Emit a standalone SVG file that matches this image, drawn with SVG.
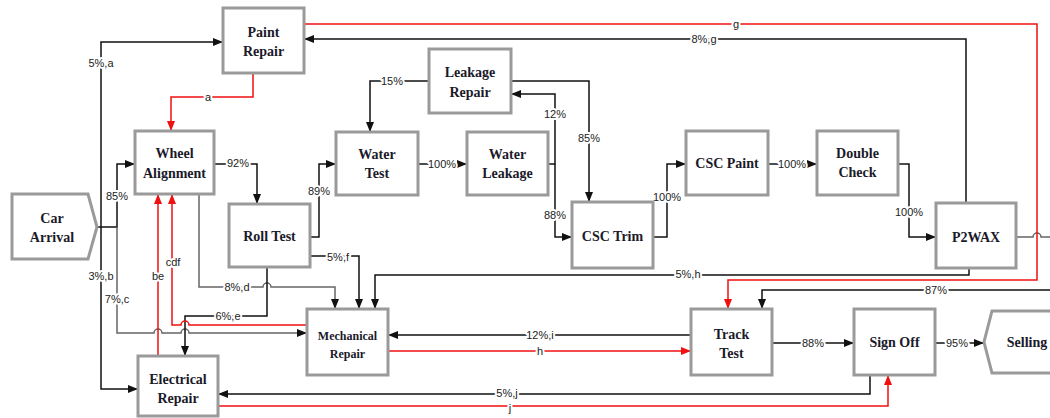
<svg xmlns="http://www.w3.org/2000/svg" width="1050" height="418" viewBox="0 0 1050 418">
<style>
.box{fill:#fff;stroke:#9a9a9a;stroke-width:3}
.nt{font-family:"Liberation Serif",serif;font-weight:bold;font-size:14px;fill:#1a1a2a;text-anchor:middle}
.nts{font-size:12px}
.k{fill:none;stroke:#111;stroke-width:1.5}
.g{fill:none;stroke:#666;stroke-width:1.5}
.r{fill:none;stroke:#f01010;stroke-width:1.5}
.lb{font-family:"Liberation Sans",sans-serif;font-size:11px;fill:#222;text-anchor:middle;stroke:#fff;stroke-width:4;paint-order:stroke;stroke-linejoin:round}
</style>
<defs>
<marker id="ak" markerUnits="userSpaceOnUse" markerWidth="10" markerHeight="8" refX="10" refY="4" orient="auto"><path d="M0,0 L10,4 L0,8 z" fill="#111"/></marker>
<marker id="ar" markerUnits="userSpaceOnUse" markerWidth="10" markerHeight="8" refX="10" refY="4" orient="auto"><path d="M0,0 L10,4 L0,8 z" fill="#f01010"/></marker>
</defs>

<g id="connectors">
<path class="k" d="M97,227 H117 V164 H135" marker-end="url(#ak)"/>
<path class="g" d="M117,227 V333 H154 A4,4 0 0 1 162,333 H181 A4,4 0 0 1 189,333 H307" marker-end="url(#ak)"/>
<path class="k" d="M101,227 V42 H223" marker-end="url(#ak)"/>
<path class="k" d="M101,227 V389 H138" marker-end="url(#ak)"/>
<path class="k" d="M214,164 H257 V204" marker-end="url(#ak)"/>
<path class="g" d="M199,194 V287 H263 A4,4 0 0 1 271,287 H335 V309" marker-end="url(#ak)"/>
<path class="k" d="M310,237 H319 V164 H336" marker-end="url(#ak)"/>
<path class="k" d="M310,256 H359 V309" marker-end="url(#ak)"/>
<path class="k" d="M267,267 V316 H185 V356" marker-end="url(#ak)"/>
<path class="k" d="M418,164 H467" marker-end="url(#ak)"/>
<path class="k" d="M548,164 H555 V94 H511" marker-end="url(#ak)"/>
<path class="k" d="M555,164 V237 H572" marker-end="url(#ak)"/>
<path class="k" d="M429,81 H370 V132" marker-end="url(#ak)"/>
<path class="k" d="M511,81 H589 V202" marker-end="url(#ak)"/>
<path class="k" d="M653,237 H667 V164 H686" marker-end="url(#ak)"/>
<path class="k" d="M768,164 H817" marker-end="url(#ak)"/>
<path class="k" d="M898,164 H909 V237 H936" marker-end="url(#ak)"/>
<path class="k" d="M966,203 V39 H304" marker-end="url(#ak)"/>
<path class="k" d="M969,268 V275 H375 V309" marker-end="url(#ak)"/>
<path class="g" d="M1016,237 H1033 A4,4 0 0 1 1041,237 H1053"/>
<path class="k" d="M1053,290 H762 V309" marker-end="url(#ak)"/>
<path class="k" d="M691,335 H388" marker-end="url(#ak)"/>
<path class="k" d="M772,343 H854" marker-end="url(#ak)"/>
<path class="k" d="M935,343 H984" marker-end="url(#ak)"/>
<path class="k" d="M870,375 V394 H218" marker-end="url(#ak)"/>

<path class="r" d="M253,73 V97 H171 V131" marker-end="url(#ar)"/>
<path class="r" d="M304,24 H1037 V280 H728 V309" marker-end="url(#ar)"/>
<path class="r" d="M388,351 H691" marker-end="url(#ar)"/>
<path class="r" d="M218,406 H888 V375" marker-end="url(#ar)"/>
<path class="r" d="M158,356 V194" marker-end="url(#ar)"/>
<path class="r" d="M307,325 H189 A4,4 0 0 0 181,325 H172 V194" marker-end="url(#ar)"/>

<text class="lb" x="101" y="67">5%,a</text>
<text class="lb" x="117" y="200">85%</text>
<text class="lb" x="101" y="280">3%,b</text>
<text class="lb" x="117" y="303">7%,c</text>
<text class="lb" x="208" y="101">a</text>
<text class="lb" x="238" y="167">92%</text>
<text class="lb" x="237" y="291">8%,d</text>
<text class="lb" x="319" y="195">89%</text>
<text class="lb" x="338" y="261">5%,f</text>
<text class="lb" x="228" y="320">6%,e</text>
<text class="lb" x="158" y="280">be</text>
<text class="lb" x="173" y="266">cdf</text>
<text class="lb" x="392" y="85">15%</text>
<text class="lb" x="442" y="168">100%</text>
<text class="lb" x="555" y="118">12%</text>
<text class="lb" x="589" y="142">85%</text>
<text class="lb" x="555" y="219">88%</text>
<text class="lb" x="667" y="201">100%</text>
<text class="lb" x="792" y="168">100%</text>
<text class="lb" x="909" y="216">100%</text>
<text class="lb" x="704" y="43">8%,g</text>
<text class="lb" x="736" y="28">g</text>
<text class="lb" x="688" y="278">5%,h</text>
<text class="lb" x="936" y="294">87%</text>
<text class="lb" x="540" y="339">12%,i</text>
<text class="lb" x="540" y="355">h</text>
<text class="lb" x="813" y="347">88%</text>
<text class="lb" x="957" y="347">95%</text>
<text class="lb" x="507" y="397">5%,j</text>
<text class="lb" x="510" y="412">j</text>
</g>

<g id="car-arrival"><polygon class="box" points="12,194 88,194 97,227 88,259 12,259"/><text class="nt" x="52" y="223">Car</text><text class="nt" x="52" y="242">Arrival</text></g>
<g id="paint-repair"><rect class="box" x="223" y="8" width="81" height="65"/><text class="nt" x="263.5" y="37">Paint</text><text class="nt" x="263.5" y="56">Repair</text></g>
<g id="wheel-alignment"><rect class="box" x="135" y="131" width="79" height="63"/><text class="nt" x="174.5" y="158">Wheel</text><text class="nt" x="174.5" y="178">Alignment</text></g>
<g id="roll-test"><rect class="box" x="229" y="204" width="81" height="63"/><text class="nt" x="269.5" y="241">Roll Test</text></g>
<g id="water-test"><rect class="box" x="336" y="132" width="82" height="63"/><text class="nt" x="377" y="159">Water</text><text class="nt" x="377" y="178">Test</text></g>
<g id="water-leakage"><rect class="box" x="467" y="132" width="81" height="63"/><text class="nt" x="507.5" y="159">Water</text><text class="nt" x="507.5" y="178">Leakage</text></g>
<g id="leakage-repair"><rect class="box" x="429" y="49" width="82" height="64"/><text class="nt" x="470" y="77">Leakage</text><text class="nt" x="470" y="97">Repair</text></g>
<g id="csc-trim"><rect class="box" x="572" y="202" width="81" height="66"/><text class="nt" x="612.5" y="241">CSC Trim</text></g>
<g id="csc-paint"><rect class="box" x="686" y="131" width="82" height="64"/><text class="nt" x="727" y="168">CSC Paint</text></g>
<g id="double-check"><rect class="box" x="817" y="131" width="81" height="64"/><text class="nt" x="857.5" y="158">Double</text><text class="nt" x="857.5" y="177">Check</text></g>
<g id="p2wax"><rect class="box" x="936" y="203" width="80" height="65"/><text class="nt" x="976" y="242">P2WAX</text></g>
<g id="mechanical-repair"><rect class="box" x="307" y="309" width="81" height="66"/><text class="nt nts" x="347.5" y="340">Mechanical</text><text class="nt nts" x="347.5" y="358">Repair</text></g>
<g id="track-test"><rect class="box" x="691" y="309" width="81" height="66"/><text class="nt" x="731.5" y="339">Track</text><text class="nt" x="731.5" y="358">Test</text></g>
<g id="sign-off"><rect class="box" x="854" y="309" width="81" height="66"/><text class="nt" x="894.5" y="347">Sign Off</text></g>
<g id="electrical-repair"><rect class="box" x="138" y="356" width="80" height="60"/><text class="nt" x="178" y="384">Electrical</text><text class="nt" x="178" y="403">Repair</text></g>
<g id="selling"><polygon class="box" points="992,311 1060,311 1060,373 992,373 984,342"/><text class="nt" x="1027" y="347">Selling</text></g>
</svg>
